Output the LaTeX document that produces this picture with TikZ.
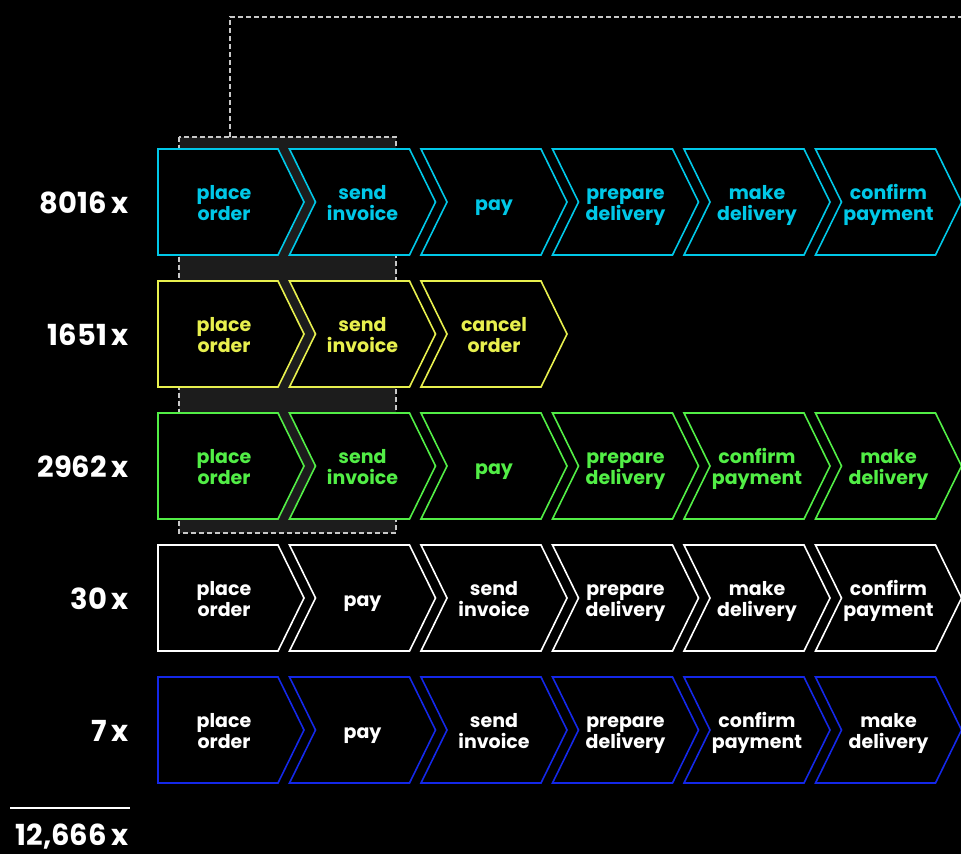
\documentclass[tikz,border=0pt]{standalone}
\usepackage{fontspec}
\setmainfont{Poppins}
\definecolor{flowcyan}{HTML}{00C8E8}
\definecolor{flowyellow}{HTML}{E8F04E}
\definecolor{flowgreen}{HTML}{52EE46}
\definecolor{flowblue}{HTML}{1428E8}
\definecolor{boxgray}{HTML}{1C1C1C}
\definecolor{dashgray}{HTML}{C8C8C8}
\tikzset{
  chevline/.style={draw=#1, line width=1.6pt, fill=black, line join=miter},
  chevtext/.style={font=\bfseries\fontsize{19}{21.5}\selectfont, align=center, inner sep=0pt, anchor=base},
  countlabel/.style={font=\bfseries\fontsize{29}{32}\selectfont, anchor=base east, text=white, inner sep=0pt},
  hlbox/.style={draw=dashgray, fill=boxgray, line width=1.1pt, dash pattern=on 5pt off 3pt},
}
% one step of a variant: column, row, line colour, text colour, text
% (two lines: last baseline 71.5 below the top, one line: 62)
\newcommand{\chev}[5]{%
  \pgfmathsetmacro{\chevx}{158+131.5*#1}
  \pgfmathsetmacro{\chevy}{149+132*#2}
  \ifnum#1=0
    \draw[chevline=#3] (\chevx,\chevy) -- ++(120,0) -- ++(26,53) -- ++(-26,53) -- ++(-120,0) -- cycle;
    \def\chevmid{66}%
  \else
    \draw[chevline=#3] (\chevx,\chevy) -- ++(120,0) -- ++(26,53) -- ++(-26,53) -- ++(-120,0) -- ++(26,-53) -- cycle;
    \def\chevmid{73}%
  \fi
  \node[chevtext, text=#4] (r#2c#1) at (\chevx+\chevmid,\chevy+71.5) {#5};
}
\newcommand{\chevone}[5]{%
  \pgfmathsetmacro{\chevx}{158+131.5*#1}
  \pgfmathsetmacro{\chevy}{149+132*#2}
  \draw[chevline=#3] (\chevx,\chevy) -- ++(120,0) -- ++(26,53) -- ++(-26,53) -- ++(-120,0) -- ++(26,-53) -- cycle;
  \node[chevtext, text=#4] (r#2c#1) at (\chevx+73,\chevy+61) {#5};
}
\begin{document}
\begin{tikzpicture}[x=1pt, y=-1pt]
  \fill[black] (0,0) rectangle (961,854);
  \useasboundingbox (0,0) rectangle (961,854);

  % highlighted common start
  \draw[hlbox] (179,137) rectangle (396,533);
  \coordinate (hltop) at (230,137);
  \coordinate (lineend) at (961,17);
  \draw[draw=dashgray, line width=1.1pt, dash pattern=on 5pt off 3pt] (hltop) |- (lineend);

  % variants
  \chev{0}{0}{flowcyan}{flowcyan}{place\\order}
  \chev{1}{0}{flowcyan}{flowcyan}{send\\invoice}
  \chevone{2}{0}{flowcyan}{flowcyan}{pay}
  \chev{3}{0}{flowcyan}{flowcyan}{prepare\\delivery}
  \chev{4}{0}{flowcyan}{flowcyan}{make\\delivery}
  \chev{5}{0}{flowcyan}{flowcyan}{confirm\\payment}

  \chev{0}{1}{flowyellow}{flowyellow}{place\\order}
  \chev{1}{1}{flowyellow}{flowyellow}{send\\invoice}
  \chev{2}{1}{flowyellow}{flowyellow}{cancel\\order}

  \chev{0}{2}{flowgreen}{flowgreen}{place\\order}
  \chev{1}{2}{flowgreen}{flowgreen}{send\\invoice}
  \chevone{2}{2}{flowgreen}{flowgreen}{pay}
  \chev{3}{2}{flowgreen}{flowgreen}{prepare\\delivery}
  \chev{4}{2}{flowgreen}{flowgreen}{confirm\\payment}
  \chev{5}{2}{flowgreen}{flowgreen}{make\\delivery}

  \chev{0}{3}{white}{white}{place\\order}
  \chevone{1}{3}{white}{white}{pay}
  \chev{2}{3}{white}{white}{send\\invoice}
  \chev{3}{3}{white}{white}{prepare\\delivery}
  \chev{4}{3}{white}{white}{make\\delivery}
  \chev{5}{3}{white}{white}{confirm\\payment}

  \chev{0}{4}{flowblue}{white}{place\\order}
  \chevone{1}{4}{flowblue}{white}{pay}
  \chev{2}{4}{flowblue}{white}{send\\invoice}
  \chev{3}{4}{flowblue}{white}{prepare\\delivery}
  \chev{4}{4}{flowblue}{white}{confirm\\payment}
  \chev{5}{4}{flowblue}{white}{make\\delivery}

  % counts
  \node[countlabel] (n0) at (129,213) {8016\,x};
  \node[countlabel] (n1) at (129,345) {1651\,x};
  \node[countlabel] (n2) at (129,477) {2962\,x};
  \node[countlabel] (n3) at (129,609) {30\,x};
  \node[countlabel] (n4) at (129,741) {7\,x};
  \coordinate (sumleft) at (10,808);
  \coordinate (sumright) at (130,808);
  \draw[white, line width=1.8pt] (sumleft) -- (sumright);
  \node[countlabel] (total) at (129,845) {12,666\,x};
\end{tikzpicture}
\end{document}
